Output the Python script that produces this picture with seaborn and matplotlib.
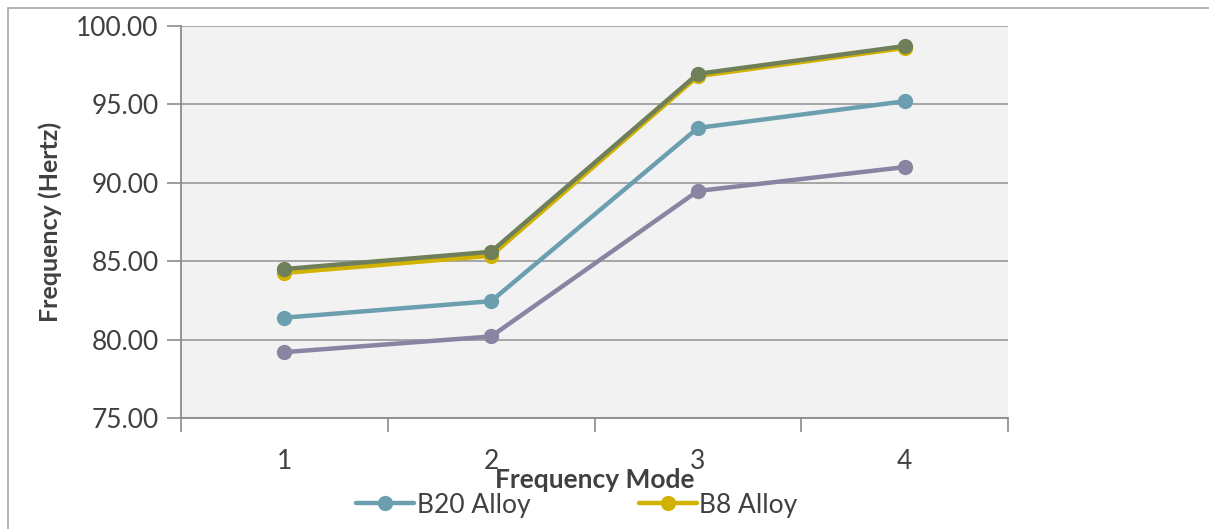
import matplotlib
matplotlib.use("Agg")
import matplotlib.pyplot as plt
from matplotlib.patches import Rectangle
import seaborn as sns
import pandas as pd

modes = [1, 2, 3, 4]
b20_alloy = [81.40, 82.45, 93.50, 95.20]
b8_alloy = [84.25, 85.35, 96.80, 98.60]
series3 = [84.50, 85.60, 96.95, 98.72]
series4 = [79.20, 80.20, 89.48, 91.00]
series_names = ["B20 Alloy", "B8 Alloy", "Series 3", "Series 4"]
colors = ["#6B9FB0", "#D2B200", "#6F7F59", "#8A83A2"]
y_ticks = [75, 80, 85, 90, 95, 100]

rows = []
for name, vals in zip(series_names, [b20_alloy, b8_alloy, series3, series4]):
    for m, v in zip(modes, vals):
        rows.append({"Mode": m, "Freq": v, "Series": name})
df = pd.DataFrame(rows)

sns.set_theme(style="white")
plt.rcParams["font.family"] = ["Lato", "DejaVu Sans"]

fig = plt.figure(figsize=(12.09, 5.29), dpi=100)
ax = fig.add_axes([181/1209, 1-418/529, (1008-181)/1209, (418-26)/529])
ax.set_facecolor("#F2F2F2")

sns.lineplot(data=df, x="Mode", y="Freq", hue="Series", hue_order=series_names,
             palette=colors, marker="o", markersize=11, markeredgewidth=0,
             linewidth=3.2, legend=False, ax=ax, zorder=3)

ax.set_xlim(0.5, 4.5)
ax.set_ylim(75, 100)
ax.set_yticks(y_ticks)
ax.set_yticklabels([f"{v:.2f}" for v in y_ticks])
ax.set_xticks([0.5, 1.5, 2.5, 3.5, 4.5])
ax.set_xticklabels([])
ax.set_xticks(modes, minor=True)
ax.set_xticklabels([str(m) for m in modes], minor=True)
ax.tick_params(axis="x", which="minor", bottom=False, length=0, pad=22, labelsize=19, labelcolor="#404040")
ax.tick_params(axis="x", which="major", bottom=True, length=10, width=1.2, color="#8C8C8C", direction="out")
ax.tick_params(axis="y", left=True, length=10, width=1.2, color="#8C8C8C", direction="out",
               labelsize=19, labelcolor="#404040", pad=6)
ax.grid(axis="y", color="#A0A0A0", linewidth=1.3, zorder=0)
ax.set_axisbelow(True)
for s in ["top", "right"]:
    ax.spines[s].set_visible(False)
for s in ["left", "bottom"]:
    ax.spines[s].set_color("#8C8C8C")
    ax.spines[s].set_linewidth(1.3)

ax.set_xlabel("Frequency Mode", fontsize=19, fontweight="bold", color="#404040", labelpad=-4)
ax.set_ylabel("Frequency (Hertz)", fontsize=18, fontweight="bold", color="#404040", labelpad=10)

handles = ax.get_lines()[:2]
leg = fig.legend(handles, series_names[:2], loc="center", bbox_to_anchor=(577/1209, 1-505/529),
                 ncol=2, frameon=False, fontsize=19, handlelength=2.2, columnspacing=4.1,
                 handletextpad=0.1, labelcolor="#404040")

fig.patches.append(Rectangle((8/1209, -0.1), 1.2, 1-8/529+0.1, transform=fig.transFigure,
                             fill=False, edgecolor="#A6A6A6", linewidth=1.2))

fig.savefig("out.png", dpi=100)
